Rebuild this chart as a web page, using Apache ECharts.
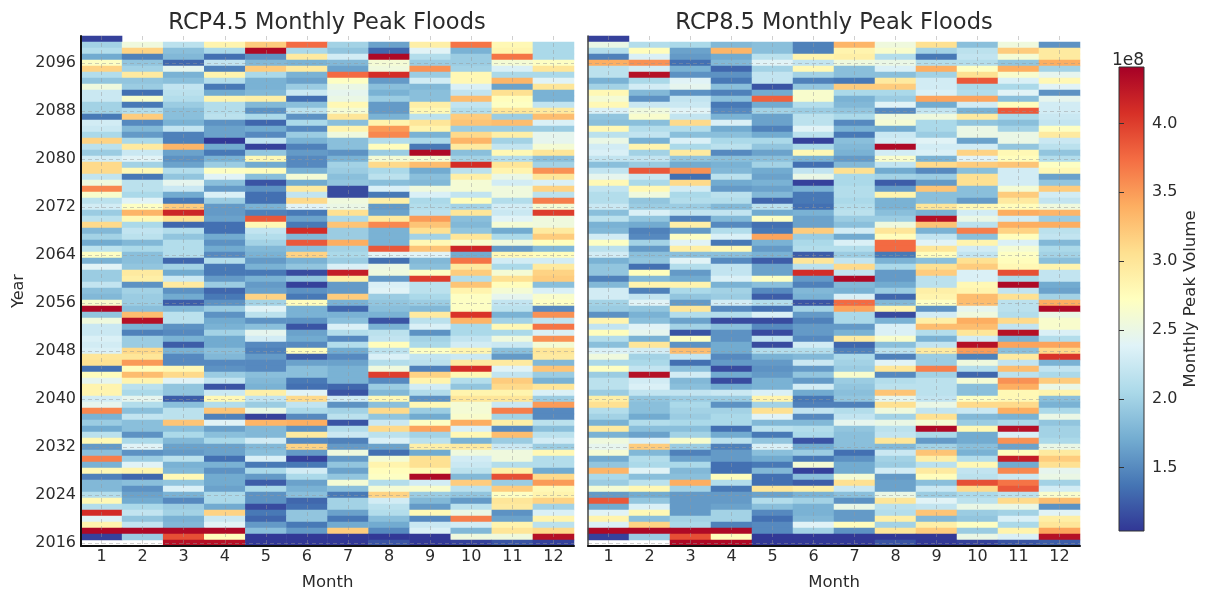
<!DOCTYPE html>
<html><head><meta charset="utf-8">
<style>html,body{margin:0;padding:0;background:#fff}#c{width:1211px;height:591px;filter:blur(0.4px)}</style>
<script src="https://cdn.jsdelivr.net/npm/echarts@6/dist/echarts.min.js"></script>
</head><body><div id="c"></div>
<script>
const months=[1,2,3,4,5,6,7,8,9,10,11,12];
const topYear=2100;
const colorbarTicks=[1.5,2.0,2.5,3.0,3.5,4.0];
const colorMin=1.04, colorMax=4.41;
const palette=['#313695','#4575b4','#74add1','#abd9e9','#e0f3f8','#ffffbf','#fee090','#fdae61','#f46d43','#d73027','#a50026'];
// values in units of 1e8; rows run from 2100 (first) to 2016 (last)
const rcp45Rows=[
[1.1,null,null,null,null,null,null,null,null,null,null,null],
[2.0,2.55,2.15,2.85,3.2,3.75,2.0,1.65,2.9,3.7,2.8,2.05],
[2.1,3.15,1.85,2.05,4.35,2.05,1.9,1.3,2.4,1.75,2.85,2.05],
[1.7,1.45,1.8,1.35,1.55,2.95,2.3,4.35,2.1,1.95,3.7,2.05],
[2.7,1.9,1.3,2.2,1.8,1.75,1.8,2.6,1.95,1.95,2.6,2.7],
[3.15,2.0,2.45,1.45,3.2,2.95,1.65,2.55,3.55,2.0,2.35,3.0],
[2.1,2.95,1.75,2.85,2.05,1.75,3.75,4.1,1.95,2.8,2.05,2.05],
[1.9,1.9,1.85,2.1,1.75,1.65,2.7,1.6,2.3,2.8,3.35,2.4],
[2.55,1.95,2.2,1.4,1.75,1.95,2.5,1.85,1.8,2.35,1.65,3.0],
[2.25,1.35,2.15,1.7,1.8,2.25,2.45,1.75,1.85,2.2,3.05,1.75],
[2.25,2.65,2.1,2.85,2.9,1.35,2.5,1.95,1.85,3.3,2.75,1.75],
[2.0,1.4,1.95,2.1,1.8,1.85,2.8,1.6,2.9,2.2,2.7,2.2],
[2.0,2.1,1.85,2.1,1.55,2.15,2.6,1.6,2.8,2.1,3.0,2.95],
[1.4,3.2,1.85,2.15,2.05,1.55,3.0,1.75,2.15,3.2,1.95,3.3],
[2.3,1.5,1.75,1.55,1.3,2.05,1.85,2.85,3.0,3.25,3.3,2.35],
[2.25,1.8,2.2,1.65,1.7,1.5,2.85,3.5,2.85,1.95,1.95,1.95],
[2.05,1.6,1.45,1.65,1.5,1.95,2.55,3.6,1.75,3.1,2.9,2.45],
[3.15,2.05,1.45,1.05,2.2,1.75,1.85,2.1,2.05,3.35,2.0,2.45],
[2.15,2.95,3.35,1.7,1.1,1.45,1.85,2.75,1.4,2.95,2.2,2.6],
[1.95,2.25,1.65,1.4,1.9,1.6,1.55,1.95,4.35,1.85,2.8,3.0],
[2.3,2.4,1.55,1.75,2.8,1.5,1.75,2.6,2.6,2.0,2.1,1.85],
[3.1,2.0,1.65,1.95,1.7,1.5,2.0,3.1,3.3,4.1,3.0,2.0],
[3.1,2.8,2.1,2.7,2.75,1.75,1.95,2.05,1.7,2.15,2.85,3.55],
[2.2,1.4,1.9,2.4,1.85,2.6,1.85,2.15,1.85,2.9,2.5,3.0],
[2.55,2.15,2.45,1.85,1.2,1.7,1.9,1.85,1.8,2.6,2.3,2.35],
[3.6,2.15,2.25,1.6,1.55,2.95,1.15,2.35,2.55,2.6,2.55,3.15],
[2.65,2.05,1.7,2.35,1.35,2.2,1.15,1.4,2.35,2.2,2.55,2.15],
[2.15,2.4,1.4,1.95,1.35,3.1,2.55,2.9,2.05,2.75,2.1,3.65],
[2.3,2.7,3.2,1.6,1.75,2.4,2.5,1.6,2.1,2.0,2.3,2.6],
[1.95,3.35,4.15,1.6,1.45,1.4,3.05,1.65,2.15,3.0,2.25,4.0],
[2.15,2.8,3.05,1.65,3.85,1.65,2.05,2.95,3.5,1.85,2.4,2.55],
[3.1,2.05,1.3,1.35,2.8,1.4,3.25,3.6,3.25,1.8,2.6,2.55],
[1.8,2.2,2.1,1.35,2.2,4.1,1.95,1.75,3.05,1.9,1.7,2.95],
[2.0,2.15,1.9,1.7,2.1,1.8,1.95,1.75,2.0,3.0,2.05,3.2],
[1.7,1.8,2.1,1.55,2.0,3.85,3.4,1.75,2.8,2.65,2.55,2.75],
[2.15,2.05,2.1,1.7,1.8,1.85,2.0,3.85,3.25,4.15,1.6,1.8],
[2.7,1.85,2.1,1.5,1.75,3.15,2.05,2.4,2.4,1.7,2.8,2.75],
[1.75,1.85,1.3,2.1,1.6,1.75,1.95,1.35,1.8,3.7,2.3,2.3],
[2.4,1.9,2.0,1.4,1.75,1.9,2.35,2.5,1.85,2.95,2.05,2.95],
[1.95,2.95,1.7,1.4,1.4,1.15,4.2,2.55,2.7,3.2,2.6,3.15],
[1.95,2.9,2.25,1.6,1.75,1.9,2.9,1.6,4.0,2.1,3.05,3.2],
[2.2,1.55,2.95,1.95,1.6,1.1,1.6,2.35,2.15,3.25,2.75,1.85],
[1.85,2.0,1.55,1.3,1.65,1.55,1.6,2.4,2.15,2.85,2.6,2.35],
[1.8,1.95,1.7,1.4,3.15,1.4,3.2,1.95,2.05,2.7,2.45,2.65],
[2.65,1.95,1.25,1.55,2.0,2.75,1.75,1.9,1.95,2.7,2.2,2.7],
[4.35,1.85,1.8,1.95,2.4,1.75,1.3,1.85,1.8,2.7,2.15,1.5],
[1.9,3.3,2.15,1.55,2.15,1.75,1.75,1.75,2.95,4.05,1.75,3.55],
[2.55,4.3,2.15,1.7,1.55,1.55,1.85,1.2,2.15,3.35,2.0,2.2],
[2.25,1.75,1.55,1.75,1.85,1.2,2.35,1.75,2.35,2.05,2.8,3.7],
[2.25,1.45,1.5,2.0,2.45,1.65,2.1,2.15,1.55,2.05,2.05,2.35],
[2.35,1.95,1.75,1.7,2.3,1.7,1.5,2.2,2.0,2.2,2.55,3.55],
[2.3,1.95,1.25,1.7,1.5,1.5,2.1,2.75,2.05,2.3,2.25,2.6],
[2.35,3.1,1.75,1.85,1.45,2.75,1.7,2.15,2.7,2.85,1.85,3.0],
[3.0,3.0,1.5,1.8,1.6,1.25,1.5,2.35,2.2,2.25,1.6,2.95],
[3.05,3.5,1.5,1.5,1.5,1.65,1.65,2.1,2.15,2.95,2.95,1.8],
[1.35,2.75,2.8,1.55,1.5,1.85,1.75,2.55,1.45,4.1,2.4,3.25],
[2.75,3.3,3.1,1.95,1.85,1.85,1.75,4.0,3.15,2.8,2.2,1.95],
[2.45,2.85,2.4,2.2,1.8,1.4,1.75,1.5,2.85,2.1,3.2,1.75],
[2.85,2.15,1.9,1.2,1.75,1.35,1.3,1.95,2.3,1.9,3.1,3.0],
[2.85,2.05,1.9,2.25,2.9,2.4,1.2,1.8,2.1,2.85,2.85,2.35],
[2.3,2.45,1.25,2.8,2.2,3.1,2.3,2.8,1.55,3.0,3.0,1.95],
[2.45,2.1,1.85,2.1,1.95,2.2,1.55,1.85,2.8,2.6,2.25,3.5],
[3.6,1.85,2.15,3.25,2.5,2.05,2.0,3.1,1.95,2.6,3.65,1.5],
[1.75,2.2,2.15,1.45,1.1,1.5,2.15,1.9,1.7,2.65,2.0,1.5],
[1.95,1.85,3.25,2.4,3.35,3.4,1.2,2.25,2.7,3.4,2.9,2.15],
[1.7,1.85,1.85,1.65,1.8,1.55,2.1,3.1,3.45,2.35,1.5,1.85],
[2.15,1.55,2.05,1.85,1.8,2.95,2.25,2.15,2.0,2.8,3.3,2.15],
[2.8,2.05,1.8,2.05,2.3,1.5,1.45,2.35,2.15,1.75,1.95,2.3],
[1.6,2.4,1.65,1.65,1.8,3.15,1.6,1.65,2.9,2.95,2.25,1.95],
[1.85,1.55,1.6,1.65,1.85,1.6,2.55,1.35,1.7,2.55,2.55,2.8],
[3.65,1.95,2.15,1.35,2.35,1.1,1.6,2.6,3.05,2.3,2.55,2.1],
[1.75,2.4,1.75,1.75,1.4,1.4,1.9,2.85,3.05,2.25,2.1,2.1],
[2.8,2.85,1.8,1.55,2.05,2.3,1.65,2.75,2.8,2.15,2.9,1.7],
[1.45,1.3,2.8,1.7,1.6,2.05,1.9,2.7,4.35,1.8,3.9,3.1],
[1.8,1.85,1.9,1.7,1.25,1.65,2.6,2.1,2.3,3.2,1.95,3.5],
[1.8,1.55,2.35,1.65,2.05,1.75,1.85,2.6,2.65,2.15,3.2,2.8],
[2.1,1.65,1.75,2.05,1.55,1.85,1.4,3.15,1.95,1.9,2.7,2.85],
[2.8,1.7,1.5,2.05,1.55,1.3,2.0,2.3,1.8,1.6,3.0,3.15],
[2.1,2.05,1.95,1.7,1.15,1.35,2.0,2.15,1.6,2.15,2.95,2.0],
[4.1,2.2,2.0,3.15,1.4,1.9,1.65,2.1,2.8,2.5,1.55,2.35],
[2.4,1.9,1.75,2.25,1.3,1.9,1.4,1.85,1.5,3.65,1.65,2.85],
[2.85,2.2,1.8,2.4,1.6,1.4,1.7,1.7,2.25,2.3,2.85,2.15],
[4.35,4.35,4.35,4.35,1.85,1.6,3.2,1.5,2.35,1.8,3.0,3.1],
[1.1,1.95,3.9,2.75,1.05,1.05,1.05,1.05,1.05,2.55,2.55,4.3],
[null,null,4.3,4.3,1.05,1.05,1.05,1.2,1.05,1.1,1.2,1.1]
];
const rcp85Rows=[
[1.1,null,null,null,null,null,null,null,null,null,null,null],
[2.5,2.1,2.05,1.8,1.85,1.45,3.35,2.55,3.05,1.85,2.55,1.55],
[2.1,2.75,1.65,3.35,1.85,1.45,2.85,2.65,2.0,2.15,3.2,2.95],
[1.45,2.35,1.6,1.7,2.15,2.85,2.9,2.1,1.4,2.2,2.6,2.95],
[3.4,3.55,1.35,1.8,2.4,2.2,2.55,2.5,2.1,2.1,1.9,3.4],
[2.15,2.3,1.75,1.3,2.0,2.8,1.85,2.35,3.4,2.7,3.4,2.0],
[2.15,4.3,1.55,1.55,2.2,2.0,1.85,1.85,2.0,3.05,2.65,2.45],
[1.75,2.05,2.4,1.4,2.2,1.45,1.4,2.95,2.3,3.85,2.35,2.8],
[2.0,2.3,2.45,1.85,1.2,1.9,3.2,3.2,2.3,2.05,2.05,2.4],
[2.8,1.8,1.55,1.45,1.7,2.65,2.05,2.05,2.35,2.1,2.4,1.55],
[2.6,1.55,2.2,1.85,3.8,2.65,1.75,1.95,3.45,3.45,1.85,2.45],
[2.8,2.25,2.25,1.4,1.7,2.1,1.8,2.4,1.7,2.3,2.75,2.3],
[2.35,2.55,2.4,1.5,2.0,1.95,1.9,1.5,2.2,1.75,3.85,2.3],
[1.9,2.65,2.2,1.75,1.65,2.15,2.05,2.55,2.55,2.95,2.05,2.25],
[1.85,1.85,3.1,2.35,1.65,2.15,1.5,2.6,2.05,1.9,1.85,2.2],
[2.8,2.1,2.1,1.7,1.45,2.4,1.75,1.7,2.05,2.5,2.0,2.7],
[2.15,2.2,1.85,1.85,1.7,2.15,1.4,2.25,1.95,2.5,2.5,2.95],
[2.5,1.75,2.35,2.05,2.05,1.1,1.85,2.3,2.4,1.65,2.5,2.25],
[2.3,2.85,2.05,2.15,1.9,2.05,1.8,4.35,2.3,2.3,1.9,2.15],
[2.35,2.0,2.95,1.5,1.65,2.8,1.75,2.3,2.35,3.15,2.8,1.9],
[2.2,2.2,1.9,1.85,1.85,1.75,1.6,2.65,1.75,2.4,2.75,2.1],
[1.85,1.95,1.7,1.75,2.0,1.35,1.8,2.2,3.1,3.2,3.25,2.7],
[2.2,3.85,3.55,1.8,1.7,2.2,3.05,1.7,1.5,1.85,2.3,2.8],
[2.45,2.25,1.35,2.15,1.65,2.5,2.05,2.0,1.95,3.05,2.3,1.65],
[2.8,2.05,3.1,1.7,1.75,1.1,2.05,1.25,1.6,3.05,2.3,1.9],
[2.2,2.8,2.3,1.6,1.65,1.75,2.1,1.6,3.25,1.85,2.6,3.2],
[2.1,2.55,2.05,2.15,1.8,1.4,2.1,2.85,1.85,1.85,3.2,2.3],
[2.1,1.9,2.1,2.1,1.3,1.4,2.05,1.75,1.85,1.6,2.95,2.2],
[2.25,1.95,1.95,1.8,2.15,1.35,2.1,1.75,3.0,2.8,2.75,2.55],
[1.85,2.35,2.2,2.2,1.7,1.75,2.15,1.85,1.75,2.3,3.4,3.35],
[2.15,1.9,1.45,1.8,2.7,1.65,1.95,1.95,4.3,2.5,2.3,1.95],
[1.75,1.7,2.9,1.5,1.35,1.65,1.85,2.55,3.25,2.15,3.4,3.4],
[1.8,1.45,1.6,2.1,1.4,3.2,2.3,3.0,1.75,3.65,3.15,2.15],
[2.3,1.5,2.7,2.35,3.45,1.95,1.7,2.75,2.2,1.85,2.75,2.2],
[2.7,2.0,2.4,1.4,1.75,2.05,2.35,3.75,2.4,2.85,2.35,1.8],
[2.15,1.6,2.9,2.8,1.6,2.1,2.1,3.75,3.0,2.3,2.6,2.05],
[2.3,1.85,1.85,1.85,1.75,1.25,1.95,1.4,2.75,2.2,2.7,2.0],
[1.75,1.9,2.4,1.5,1.25,3.0,2.2,1.75,1.85,3.05,2.75,1.85],
[1.9,1.35,2.1,2.2,1.65,2.15,3.1,2.05,3.05,3.2,2.8,2.85],
[1.9,2.75,1.6,2.2,1.65,4.1,2.2,1.6,3.2,2.35,3.9,2.2],
[1.45,1.8,1.7,2.35,2.7,1.6,4.35,1.6,2.15,2.35,2.05,2.2],
[1.8,2.85,2.85,1.75,1.85,1.45,1.8,1.7,2.15,2.8,4.35,1.7],
[2.3,1.45,2.05,2.0,1.5,1.8,1.75,1.95,2.9,2.85,2.2,1.65],
[2.3,2.2,1.9,1.95,1.25,1.75,2.35,1.3,2.85,3.3,3.05,2.0],
[2.0,2.4,1.6,2.3,2.1,1.2,3.75,1.8,2.7,3.3,2.15,3.4],
[1.95,1.9,3.0,1.5,1.35,2.0,3.45,2.85,1.55,2.45,2.15,4.35],
[1.55,1.75,2.1,2.1,2.35,1.6,2.05,1.15,2.3,2.55,2.1,2.5],
[2.85,1.85,1.65,1.15,1.15,1.45,2.05,1.75,2.9,3.4,3.1,2.65],
[2.2,2.4,2.0,1.85,1.5,1.6,1.6,2.35,3.3,3.3,2.2,2.65],
[2.75,2.45,1.2,1.55,1.15,1.6,1.75,2.35,2.1,3.0,4.3,2.35],
[2.1,1.75,2.7,1.55,2.2,1.5,2.95,2.65,1.75,2.3,1.75,2.1],
[1.85,3.0,1.55,1.7,1.15,2.3,1.3,1.85,2.2,4.3,3.45,3.45],
[2.35,2.3,3.3,1.7,2.1,2.1,1.45,2.15,2.95,3.5,1.85,3.1],
[2.55,2.0,2.2,1.5,1.75,1.8,2.05,1.45,1.95,1.45,2.95,4.05],
[2.05,2.05,1.35,1.6,1.6,2.25,2.0,2.4,1.95,2.55,2.2,1.75],
[2.7,2.2,1.85,1.15,1.55,1.6,1.95,3.0,3.65,2.1,3.3,2.2],
[1.95,4.3,2.3,1.7,1.6,1.9,2.65,1.5,2.0,1.3,2.15,2.05],
[2.15,2.3,1.8,1.15,1.75,1.6,1.95,2.1,2.15,2.6,3.55,3.2],
[2.15,2.35,1.85,1.7,1.75,2.3,1.9,2.15,2.15,1.85,3.4,2.5],
[1.95,2.2,2.2,2.25,2.35,1.7,1.85,3.25,2.15,1.85,2.8,2.85],
[2.9,1.9,1.95,1.95,2.85,1.4,1.9,2.45,2.2,2.7,2.8,1.85],
[3.05,1.85,2.05,1.55,2.0,1.45,1.45,3.05,2.5,3.1,3.1,1.75],
[2.1,1.85,2.0,2.0,3.05,2.2,2.1,2.55,2.2,2.25,3.4,2.05],
[2.0,1.7,1.95,2.05,2.4,1.5,2.2,2.0,3.05,1.8,1.75,2.5],
[1.75,2.1,2.05,2.05,1.8,1.8,2.45,2.5,2.6,1.95,2.05,1.9],
[2.95,1.85,1.85,1.35,2.15,2.1,1.9,2.15,4.35,2.8,4.3,2.0],
[1.75,1.65,2.0,1.7,1.4,2.05,1.85,2.2,2.05,1.7,2.35,2.0],
[2.55,2.35,2.65,2.15,1.9,1.2,1.85,3.0,1.6,1.7,3.55,2.05],
[2.45,3.2,1.95,1.45,2.35,1.7,1.85,1.8,2.0,1.85,1.65,2.5],
[2.6,1.8,1.45,1.6,1.85,1.95,1.35,2.25,3.25,1.75,2.75,2.95],
[1.7,2.1,1.65,1.6,1.7,1.4,1.55,2.0,2.9,2.1,4.2,3.2],
[1.9,2.05,2.05,1.35,1.4,2.6,1.7,1.95,2.15,2.8,1.7,3.05],
[3.35,2.4,1.8,1.35,1.8,1.1,1.7,2.3,2.95,2.2,3.6,2.45],
[2.05,1.85,1.85,2.75,1.35,1.85,2.6,1.6,2.75,2.15,2.25,2.5],
[1.95,2.15,3.4,2.1,1.35,1.25,3.05,1.65,1.85,3.9,3.7,2.0],
[2.6,2.8,2.0,1.4,3.0,2.9,2.25,1.65,2.25,3.1,3.85,2.3],
[1.6,1.7,1.6,1.6,1.65,1.75,1.85,2.5,1.95,2.05,2.15,2.65],
[3.85,1.9,1.6,1.6,2.1,2.0,1.55,3.0,2.4,2.15,3.1,3.3],
[1.7,2.35,1.6,1.65,1.85,1.75,2.5,2.15,2.2,2.5,2.5,1.55],
[2.4,2.8,1.6,2.0,1.5,1.75,1.6,2.1,3.25,1.95,2.0,2.4],
[2.85,1.85,2.0,2.0,1.35,1.8,1.6,2.9,1.8,1.9,2.35,2.9],
[2.35,3.15,2.05,1.45,1.5,2.4,2.75,2.0,2.9,2.7,2.05,3.0],
[4.35,4.35,4.35,4.35,1.5,2.0,1.55,3.0,3.2,1.95,2.85,3.45],
[1.1,1.95,3.9,2.75,1.05,1.05,1.05,1.05,1.05,2.5,2.35,4.3],
[null,null,4.35,4.35,1.05,1.05,1.05,1.2,1.05,1.1,1.2,1.25]
];
const years=rcp45Rows.map((_,i)=>topYear-rcp45Rows.length+1+i);
const cells=rows=>{const out=[];rows.forEach((r,i)=>r.forEach((v,m)=>{if(v!==null)out.push([m,rows.length-1-i,v]);}));return out;};

const ink='#2b2b2b', font='DejaVu Sans';
const grid=(left,width,top,height)=>({left,width,top,height,containLabel:false,outerBoundsMode:'none'});
const dash={show:true,lineStyle:{color:'rgba(150,150,150,0.45)',width:1,type:[4,3]}};
const xAxis=(i)=>({type:'category',gridIndex:i,data:months,z:5,name:'Month',nameLocation:'middle',nameGap:28,
  nameTextStyle:{fontFamily:font,fontSize:16.5,color:ink},
  axisLine:{lineStyle:{color:'#111',width:2}},
  axisTick:{alignWithLabel:true,inside:true,length:4,lineStyle:{color:'#333'}},
  axisLabel:{fontFamily:font,fontSize:16,color:ink,margin:3,interval:0},
  splitLine:{...dash,alignWithLabel:true,interval:0}});
const yAxis=(i,labels)=>({type:'category',gridIndex:i,data:years,z:5,name:labels?'Year':'',nameLocation:'middle',nameGap:54,nameRotate:90,
  nameTextStyle:{fontFamily:font,fontSize:16,color:ink},
  axisLine:{lineStyle:{color:labels?'#111':'#444',width:labels?2:1.5}},
  axisTick:{alignWithLabel:true,inside:true,length:4,interval:7,lineStyle:{color:'#333'}},
  axisLabel:{show:labels,fontFamily:font,fontSize:16,color:ink,margin:5,interval:7},
  splitLine:{...dash,alignWithLabel:true,interval:7}});
const stops=palette.map((c,i)=>({offset:1-i/(palette.length-1),color:c}));
const title=(text,cx,top,size)=>({text,left:cx,top,textAlign:'center',textStyle:{fontFamily:font,fontSize:size,fontWeight:'normal',color:ink}});

const chart=echarts.init(document.getElementById('c'),null,{renderer:'canvas'});
chart.setOption({
  animation:false,backgroundColor:'#fff',
  title:[title('RCP4.5 Monthly Peak Floods',322,7,22.5),title('RCP8.5 Monthly Peak Floods',829,7,22.5),title('1e8',1123,47,17)],
  grid:[grid(81,493,36,510),grid(588,492,36,510),
    {left:1119,width:25,top:67,height:464,show:true,borderColor:'#333',borderWidth:1,outerBoundsMode:'none',
     backgroundColor:new echarts.graphic.LinearGradient(0,0,0,1,stops)}],
  xAxis:[xAxis(0),xAxis(1),{type:'value',gridIndex:2,show:false,min:0,max:1}],
  yAxis:[yAxis(0,true),yAxis(1,false),
    {type:'value',gridIndex:2,position:'right',min:colorMin,max:colorMax,z:5,
     name:'Monthly Peak Volume',nameLocation:'middle',nameRotate:90,nameGap:38,
     nameTextStyle:{fontFamily:font,fontSize:16.5,color:ink},
     axisLine:{show:false},splitLine:{show:false},
     axisTick:{show:true,length:5,customValues:colorbarTicks,lineStyle:{color:'#333'}},
     axisLabel:{fontFamily:font,fontSize:16,color:ink,margin:8,customValues:colorbarTicks,formatter:v=>v.toFixed(1)}}],
  visualMap:{show:false,type:'continuous',seriesIndex:[0,1],min:colorMin,max:colorMax,dimension:2,inRange:{color:palette}},
  series:[
    {type:'heatmap',xAxisIndex:0,yAxisIndex:0,data:cells(rcp45Rows),z:2,progressive:0,emphasis:{disabled:true}},
    {type:'heatmap',xAxisIndex:1,yAxisIndex:1,data:cells(rcp85Rows),z:2,progressive:0,emphasis:{disabled:true}}
  ]
});
</script></body></html>
